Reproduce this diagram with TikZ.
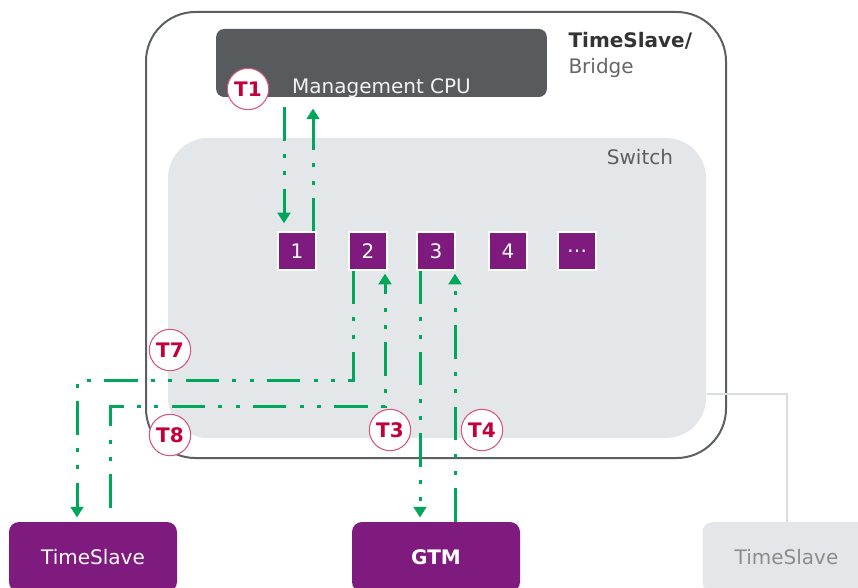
\documentclass[tikz,border=0pt]{standalone}
\usepackage{fontspec}
\setmainfont{DejaVu Sans}
\usetikzlibrary{arrows.meta,calc}

\definecolor{frame}{HTML}{5B5F62}
\definecolor{cpugray}{HTML}{575B5E}
\definecolor{switchgray}{HTML}{E4E7EA}
\definecolor{portpurple}{HTML}{7F1A7F}
\definecolor{flowgreen}{HTML}{00A65A}
\definecolor{tagred}{HTML}{C4003A}
\definecolor{tagring}{HTML}{D6577A}

\begin{document}
\begin{tikzpicture}
[x=0.75pt, y=-0.75pt, font=\fontsize{15}{19.5}\selectfont, line width=0.75pt,
box/.style={rounded corners=7.5pt, minimum width=126pt, minimum height=52.5pt, inner sep=0pt},
port/.style={fill=portpurple, draw=white, line width=1pt, minimum size=28.5pt, inner sep=0pt, text=white},
tag/.style={circle, fill=white, draw=tagring, line width=0.8pt, minimum size=31pt, inner sep=0pt,
    text=tagred, font=\fontsize{15}{17}\selectfont\bfseries},
flow/.style={draw=flowgreen, line width=2.25pt,
    dash pattern=on 25pt off 10pt on 3pt off 10pt on 3pt off 10pt},
tip/.style={-{Triangle[width=9.5pt,length=8pt]}}]

\useasboundingbox (0,0) rectangle (858,588);

\node[draw=frame, line width=1.5pt, rounded corners=37pt, minimum width=435pt, minimum height=334.5pt]
    (bridge) at (436,235) {};
\node[fill=cpugray, rounded corners=6pt, minimum width=248pt, minimum height=51pt,
    label={[anchor=base, yshift=3pt, text=white!90!gray]south:Management CPU}] (cpu) at (381.5,63) {};
\node[anchor=north west, align=left, inner sep=0pt] (name) at (568,32)
    {\textcolor{black!80}{\bfseries TimeSlave/}\\\textcolor{black!60}{Bridge}};

\node[fill=switchgray, rounded corners=30pt, minimum width=403.5pt, minimum height=225pt]
    (switch) at (437,288) {};
\node[anchor=east, text=frame] (switchname) at (678,157) {Switch};

\foreach \i/\x/\t in {1/297/1, 2/368/2, 3/436/3, 4/508/4, 5/577/{\ldots}} {
    \node[port] (p\i) at (\x,251) {\t};
}

\node[box, fill=portpurple, text=white] (ts1) at (93,557) {TimeSlave};
\node[box, fill=portpurple, text=white, font=\fontsize{15}{17}\selectfont\bfseries] (gtm) at (436,557) {GTM};
\node[box, fill=switchgray, text=black!45] (ts2) at (786.5,557) {TimeSlave};

\draw[switchgray!90!gray, line width=1.5pt] ($(switch.east)+(0,106)$) -| (ts2.north);

\draw[flow,tip] ($(cpu.south -| p1.north)+(-13,10)$) -- ($(p1.north)+(-13,-8)$);
\draw[flow,tip] ($(p1.north)+(16,0)$) -- ($(cpu.south -| p1.north)+(16,11)$);
\draw[flow,tip] ($(p2.south)+(-15,0)$) -- ++(0,110) -| ($(ts1.north)+(-16,-4)$);
\draw[flow,tip] ($(ts1.north)+(17,-14)$) -- ++(0,-101) -| ($(p2.south)+(17,3)$);
\draw[flow,tip] ($(p3.south)+(-16,0)$) -- ($(gtm.north)+(-16,-4)$);
\draw[flow,tip] ($(gtm.north)+(19,0)$) -- ($(p3.south)+(19,3)$);

\node[tag] (t1) at (248,89) {T1};
\node[tag] (t7) at (170,350) {T7};
\node[tag] (t8) at (170,435) {T8};
\node[tag] (t3) at (390,430) {T3};
\node[tag] (t4) at (482,430) {T4};

\end{tikzpicture}
\end{document}
